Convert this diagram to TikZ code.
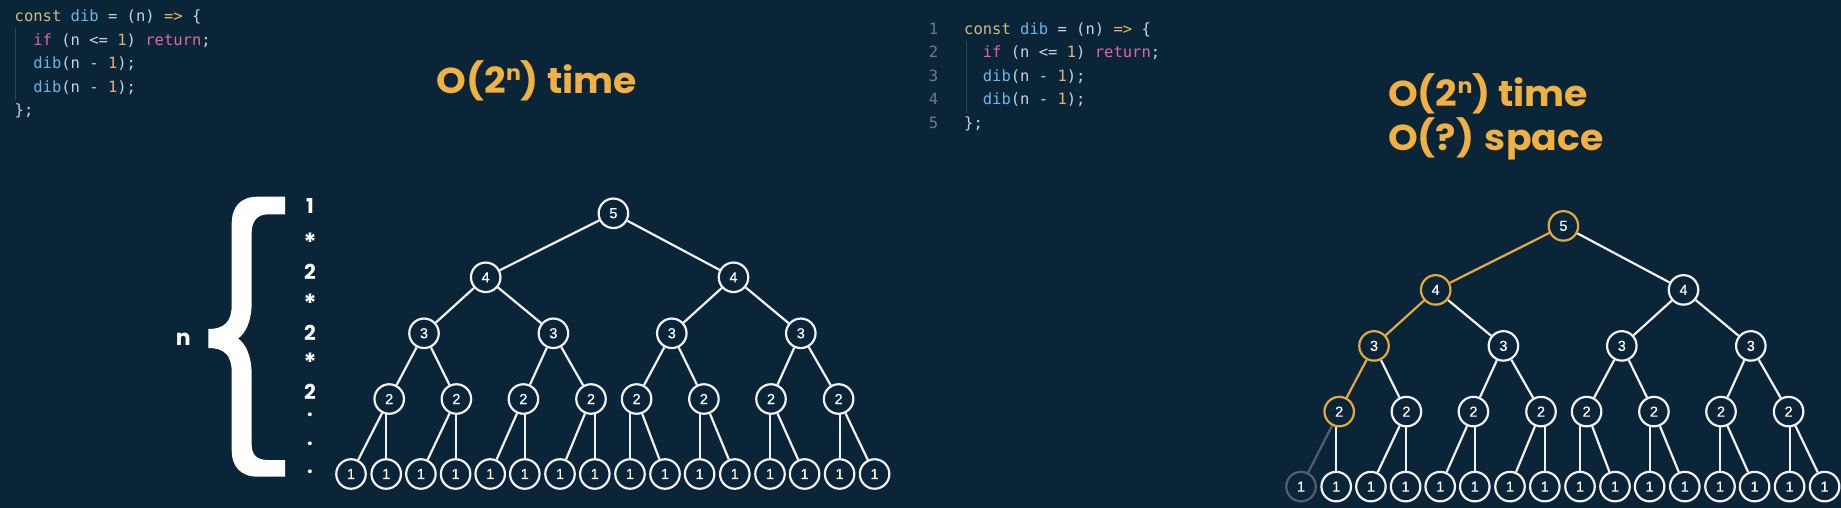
\documentclass[tikz,border=0pt]{standalone}
\usepackage{fontspec}
\setmainfont{Liberation Sans}
\newfontfamily\codefont{DejaVu Sans Mono}
\newfontfamily\titlefont{Poppins}[FakeStretch=1.05]
\newfontfamily\colfont{Poppins}
\newfontfamily\nodefont{Liberation Sans}[FakeBold=0.4]
\definecolor{bg}{RGB}{11,37,56}
\definecolor{lnw}{RGB}{242,242,242}
\definecolor{hlo}{RGB}{228,170,66}
\definecolor{hlg}{RGB}{86,95,105}
\definecolor{ttl}{RGB}{240,176,66}
\definecolor{cconst}{RGB}{214,184,134}
\definecolor{cfn}{RGB}{112,180,228}
\definecolor{cpun}{RGB}{204,210,218}
\definecolor{carrow}{RGB}{230,184,104}
\definecolor{ckw}{RGB}{222,104,156}
\definecolor{cnum}{RGB}{230,176,112}
\definecolor{cln}{RGB}{110,123,135}
\definecolor{cguide}{RGB}{52,70,86}
\pgfdeclarelayer{bgl}
\pgfdeclarelayer{edges}
\pgfsetlayers{bgl,edges,main}
\newcommand\mytree[5]{%
\begin{scope}[shift={(#2,#3)}]
\foreach \x [count=\i from 0] in {351,386.2,420.9,455.6,490.2,524.8,560,594.8,630,665,699.6,734.8,770,804.6,839.6,874.6}{%
  \ifnum\i=0 \def\cc{#5}\else\def\cc{lnw}\fi
  \node[tn,draw=\cc] (#1e\i) at (\x,474) {1};}
\foreach \x [count=\i from 0] in {389.2,456.4,523.4,591,636.6,703.9,771,838.6}{%
  \ifnum\i=0 \def\cc{#4}\else\def\cc{lnw}\fi
  \node[tn,draw=\cc] (#1d\i) at (\x,399) {2};}
\foreach \x [count=\i from 0] in {424,553.4,671.8,800.8}{%
  \ifnum\i=0 \def\cc{#4}\else\def\cc{lnw}\fi
  \node[tn,draw=\cc] (#1c\i) at (\x,333.3) {3};}
\node[tn,draw=#4] (#1b0) at (485.7,277.3) {4};
\node[tn] (#1b1) at (733.5,277.3) {4};
\node[tn,draw=#4] (#1a) at (613.4,213.3) {5};
\end{scope}
\begin{pgfonlayer}{edges}
\draw[ed,draw=#4] (#1a) -- (#1b0);
\draw[ed] (#1a) -- (#1b1);
\draw[ed,draw=#4] (#1b0) -- (#1c0);
\draw[ed] (#1b0) -- (#1c1);
\draw[ed] (#1b1) -- (#1c2);
\draw[ed] (#1b1) -- (#1c3);
\draw[ed,draw=#4] (#1c0) -- (#1d0);
\foreach \p/\q in {c0/d1,c1/d2,c1/d3,c2/d4,c2/d5,c3/d6,c3/d7} \draw[ed] (#1\p) -- (#1\q);
\draw[ed,draw=#5] (#1d0) -- (#1e0);
\foreach \p/\q in {d0/e1,d1/e3,d2/e5,d3/e7,d4/e8,d5/e10,d6/e12,d7/e14} \draw[ed] (#1\q) -- (#1\q |- #1\p);
\foreach \p/\q in {d1/e2,d2/e4,d3/e6,d4/e9,d5/e11,d6/e13,d7/e15} \draw[ed] (#1\p) -- (#1\q);
\end{pgfonlayer}}
\newcommand\codeA{\textcolor{cconst}{const} \textcolor{cfn}{dib} = (n) \textcolor{carrow}{=>} \{}
\newcommand\codeB{\textcolor{ckw}{if} (n <= \textcolor{cnum}{1}) \textcolor{ckw}{return};}
\newcommand\codeC{\textcolor{cfn}{dib}(n - \textcolor{cnum}{1});}
\newcommand\codeE{\};}
\newcommand\ttlA{O(2\raisebox{13pt}{\fontsize{21}{21}\selectfont n}) time}
\begin{document}
\begin{tikzpicture}[x=1pt,y=-1pt,
  tn/.style={circle,draw=lnw,fill=bg,line width=2.2pt,minimum size=29.5pt,inner sep=0pt,text=white,font=\nodefont\fontsize{14.5}{14.5}\selectfont},
  ed/.style={draw=lnw,line width=2.2pt},
  code/.style={anchor=base west,inner sep=0pt,text=cpun,font=\codefont\fontsize{15.5}{15.5}\selectfont},
  lnum/.style={anchor=base,inner sep=0pt,text=cln,font=\codefont\fontsize{15.5}{15.5}\selectfont},
  guide/.style={draw=cguide,line width=1pt},
  title/.style={anchor=base west,inner sep=0pt,text=ttl,font=\titlefont\bfseries\fontsize{36}{36}\selectfont},
  col/.style={anchor=base,inner sep=0pt,text=white,font=\colfont\bfseries\fontsize{20.5}{20.5}\selectfont},
  ast/.style={anchor=base,inner sep=0pt,text=white,font=\colfont\bfseries\fontsize{25}{25}\selectfont},
  dotn/.style={anchor=center,inner sep=0pt,text=white,font=\colfont\bfseries\fontsize{20}{20}\selectfont}]
\begin{pgfonlayer}{bgl}
\fill[bg] (0,0) rectangle (1841,508);
\end{pgfonlayer}
\useasboundingbox (0,0) rectangle (1841,508);
% ---------- left panel ----------
\node[code] (la1) at (14.5,21.7) {\codeA};
\node[code] (la2) at (33.2,45.2) {\codeB};
\node[code] (la3) at (33.2,68.7) {\codeC};
\node[code] (la4) at (33.2,92.2) {\codeC};
\node[code] (la5) at (14.5,115.7) {\codeE};
\coordinate (lg1) at (15.5,28);
\coordinate (lg2) at (15.5,100);
\draw[guide] (lg1) -- (lg2);
\node[title] (lt1) at (436.6,94) {\ttlA};
% brace
\fill[white] (285,196.7) -- (258,196.7) .. controls (241,196.7) and (231.7,206) .. (231.7,224)
  -- (231.7,305) .. controls (231.7,322) and (224,329) .. (208.3,329)
  -- (208.3,348) .. controls (224,348) and (231.7,355) .. (231.7,372)
  -- (231.7,450) .. controls (231.7,467) and (241,476.7) .. (258,476.7)
  -- (285,476.7) -- (285,460) -- (268,460) .. controls (257,460) and (251.7,455) .. (251.7,445)
  -- (251.7,375) .. controls (251.7,355) and (245,343) .. (238,338.5)
  .. controls (245,334) and (251.7,322) .. (251.7,302)
  -- (251.7,232) .. controls (251.7,222) and (257,214.3) .. (268,214.3) -- (285,214.3) -- cycle;
\node[anchor=base,inner sep=0pt,text=white,font=\colfont\bfseries\fontsize{22}{22}\selectfont] (nlab) at (183.3,345.7) {n};
\node[col] (k1) at (310,213.3) {1};
\node[ast] (k2) at (310,251.5) {*};
\node[col] (k3) at (310,279.3) {2};
\node[ast] (k4) at (310,312.5) {*};
\node[col] (k5) at (310,340) {2};
\node[ast] (k6) at (310,371.5) {*};
\node[col] (k7) at (310,399) {2};
\node[dotn] (k8) at (310,415) {.};
\node[dotn] (k9) at (310,443.3) {.};
\node[dotn] (k10) at (310,471.7) {.};
\mytree{L}{0}{0}{lnw}{lnw}
% ---------- right panel ----------
\begin{scope}[shift={(950,12.6)}]
\node[lnum] (n1) at (-16.5,21.7) {1};
\node[lnum] (n2) at (-16.5,45.2) {2};
\node[lnum] (n3) at (-16.5,68.7) {3};
\node[lnum] (n4) at (-16.5,92.2) {4};
\node[lnum] (n5) at (-16.5,115.7) {5};
\node[code] (ra1) at (14,21.7) {\codeA};
\node[code] (ra2) at (32.7,45.2) {\codeB};
\node[code] (ra3) at (32.7,68.7) {\codeC};
\node[code] (ra4) at (32.7,92.2) {\codeC};
\node[code] (ra5) at (14,115.7) {\codeE};
\coordinate (rg1) at (16.5,28);
\coordinate (rg2) at (16.5,100);
\draw[guide] (rg1) -- (rg2);
\node[title] (rt1) at (438,94) {\ttlA};
\node[title] (rt2) at (438,138.1) {O(?) space};
\end{scope}
\mytree{R}{950}{12.6}{hlo}{hlg}
\end{tikzpicture}
\end{document}
